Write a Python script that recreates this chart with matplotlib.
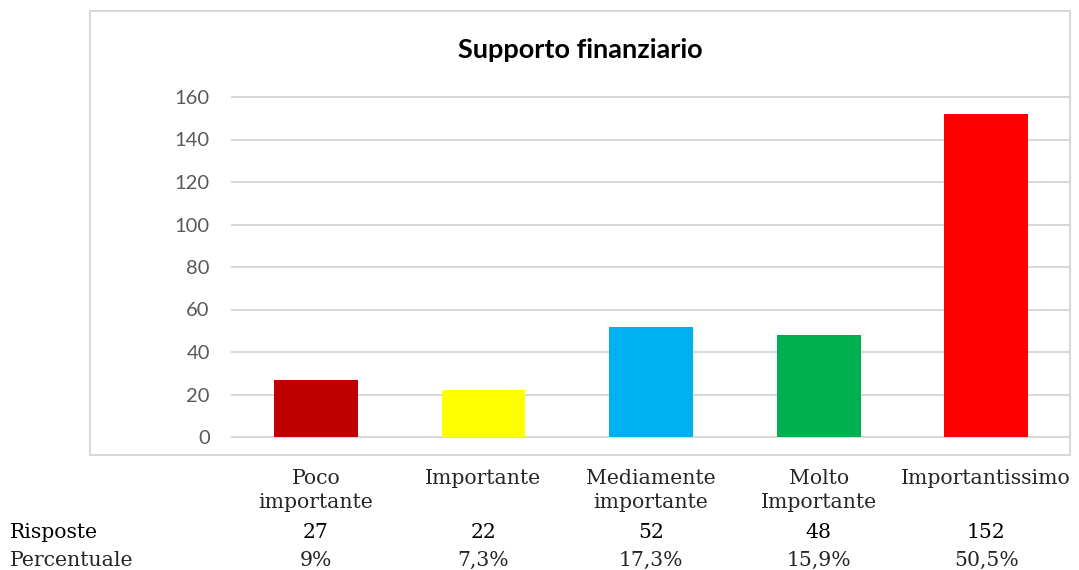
import matplotlib.pyplot as plt
from matplotlib.patches import Rectangle
from matplotlib import transforms

# data
categories = ["Poco\nimportante", "Importante", "Mediamente\nimportante",
              "Molto\nImportante", "Importantissimo"]
risposte = [27, 22, 52, 48, 152]
percentuale = ["9%", "7,3%", "17,3%", "15,9%", "50,5%"]
colors = ["#c00000", "#ffff00", "#00b0f0", "#00b050", "#ff0000"]
yticks = [0, 20, 40, 60, 80, 100, 120, 140, 160]

W, H = 1079, 570
fig = plt.figure(figsize=(W / 100, H / 100), dpi=100)

# chart frame (light gray border)
fig.patches.append(Rectangle((90 / W, 1 - 455 / H), (1070 - 90) / W, (455 - 11) / H,
                             transform=fig.transFigure, fill=False,
                             edgecolor="#d9d9d9", linewidth=1.5))

ax = fig.add_axes([232 / W, 1 - 437 / H, (1070 - 232) / W, (437 - 97) / H])
x = list(range(len(categories)))
ax.bar(x, risposte, width=0.5, color=colors, zorder=3)
ax.set_xlim(-0.5, len(categories) - 0.5)
ax.set_ylim(0, 160)
ax.set_yticks(yticks)
ax.set_yticklabels([str(t) for t in yticks], fontsize=14.5, color="#595959",
                   family="Lato")
ax.tick_params(axis="y", length=0, pad=16)
ax.set_xticks([])
ax.grid(axis="y", color="#d9d9d9", linewidth=1.5, zorder=0)
for l in ax.get_ygridlines():
    l.set_clip_on(False)
for s in ax.spines.values():
    s.set_visible(False)

fig.text(580 / W, 1 - 58 / H, "Supporto finanziario", ha="center", va="baseline",
         fontsize=19.5, fontweight="bold", family="Lato")

# table below the chart
tr = transforms.blended_transform_factory(ax.transData, fig.transFigure)
serif = "DejaVu Serif"
fs = 14.7
for i, cat in enumerate(categories):
    for j, line in enumerate(cat.split("\n")):
        ax.text(i, 1 - (484 + 24 * j) / H, line, transform=tr, ha="center",
                va="baseline", fontsize=fs, family=serif, color="#262626")
    ax.text(i, 1 - 538 / H, str(risposte[i]), transform=tr, ha="center",
            va="baseline", fontsize=fs, family=serif, color="black")
    ax.text(i, 1 - 566 / H, percentuale[i], transform=tr, ha="center",
            va="baseline", fontsize=fs, family=serif, color="#262626")

fig.text(10 / W, 1 - 538 / H, "Risposte", ha="left", va="baseline",
         fontsize=fs, family=serif, color="black")
fig.text(10 / W, 1 - 566 / H, "Percentuale", ha="left", va="baseline",
         fontsize=fs, family=serif, color="#262626")

fig.savefig("out.png", dpi=100)
